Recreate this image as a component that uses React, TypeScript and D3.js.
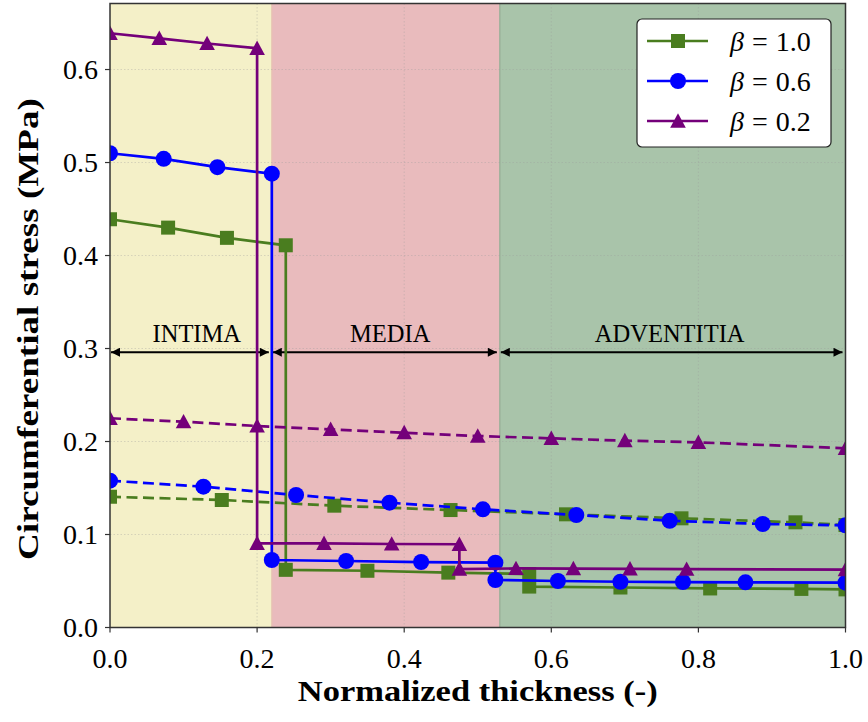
import React from 'react';
import * as d3 from 'd3';

// layer spans (normalized thickness)
const regionNames = ['INTIMA', 'MEDIA', 'ADVENTITIA'];
const regionStart = [0, 0.22, 0.53];
const regionEnd = [0.22, 0.53, 1.0];
const regionLabelX = [0.118, 0.381, 0.761];
const regionColors = ['#f4f0c8', '#e9bbbd', '#a9c4aa'];
const regionEdges = ['#e6c3b0', '#93ab93'];

const betaLabels = ['1.0', '0.6', '0.2'];
const seriesColors = ['#4a7d1f', '#0000ff', '#74007a'];
const markerShapes = ['square', 'circle', 'triangle'];

// layered model (solid), steps at the layer interfaces
const solidX10 = [0, 0.079, 0.159, 0.239, 0.239, 0.35, 0.46, 0.57, 0.57, 0.694, 0.816, 0.94, 1.0];
const solidY10 = [0.439, 0.43, 0.419, 0.411, 0.062, 0.061, 0.059, 0.0575, 0.044, 0.043, 0.042, 0.0415, 0.041];
const solidX06 = [0, 0.073, 0.146, 0.22, 0.22, 0.321, 0.423, 0.524, 0.524, 0.609, 0.694, 0.779, 0.864, 1.0];
const solidY06 = [0.51, 0.504, 0.495, 0.488, 0.0726, 0.0715, 0.0704, 0.0697, 0.0511, 0.05, 0.0492, 0.0489, 0.0486, 0.0482];
const solidX02 = [0, 0.067, 0.132, 0.2, 0.2, 0.291, 0.383, 0.475, 0.475, 0.552, 0.63, 0.707, 0.784, 1.0];
const solidY02 = [0.639, 0.6335, 0.628, 0.6228, 0.0905, 0.0905, 0.0898, 0.0895, 0.0628, 0.0635, 0.0633, 0.063, 0.0627, 0.0622];

// homogeneous model (dashed)
const dashX10 = [0, 0.152, 0.305, 0.463, 0.62, 0.777, 0.932, 1.0];
const dashY10 = [0.1406, 0.1371, 0.131, 0.1263, 0.1217, 0.1174, 0.1131, 0.1102];
const dashX06 = [0, 0.127, 0.253, 0.38, 0.507, 0.634, 0.761, 0.8875, 1.0];
const dashY06 = [0.1579, 0.1514, 0.1425, 0.1342, 0.1271, 0.121, 0.1148, 0.1113, 0.1099];
const dashX02 = [0, 0.1, 0.2, 0.3, 0.4, 0.5, 0.6, 0.7, 0.8, 1.0];
const dashY02 = [0.225, 0.2213, 0.2167, 0.2131, 0.2095, 0.2059, 0.2034, 0.2009, 0.1991, 0.1927];

const xTicks = [0, 0.2, 0.4, 0.6, 0.8, 1.0];
const yTicks = [0, 0.1, 0.2, 0.3, 0.4, 0.5, 0.6];

const W = 868;
const H = 722;
const left = 110;
const right = 845.5;
const top = 3.5;
const bottom = 627.5;
const font = '"Liberation Serif", "DejaVu Serif", serif';

const x = d3.scaleLinear().domain([0, 1]).range([left, right]);
const y = d3.scaleLinear().domain([0, 0.671]).range([bottom, top]);

const Marker = ({ shape, cx, cy, color }: { shape: string; cx: number; cy: number; color: string }) => {
  if (shape === 'square') {
    return <rect x={cx - 7} y={cy - 7} width={14} height={14} fill={color} />;
  }
  if (shape === 'circle') {
    return <circle cx={cx} cy={cy} r={8} fill={color} />;
  }
  const s = 7.8;
  return <path d={`M${cx},${cy - s}L${cx + s},${cy + s * 0.85}L${cx - s},${cy + s * 0.85}Z`} fill={color} />;
};

const App = () => {
  const line = d3
    .line<[number, number]>()
    .x((d) => x(d[0]))
    .y((d) => y(d[1]));

  // draw order: each beta solid then dashed
  const series = [
    { xs: solidX10, ys: solidY10, i: 0, dashed: false },
    { xs: dashX10, ys: dashY10, i: 0, dashed: true },
    { xs: solidX06, ys: solidY06, i: 1, dashed: false },
    { xs: dashX06, ys: dashY06, i: 1, dashed: true },
    { xs: solidX02, ys: solidY02, i: 2, dashed: false },
    { xs: dashX02, ys: dashY02, i: 2, dashed: true },
  ];

  const arrowY = y(0.296);
  const labelY = y(0.3075);

  return (
    <svg width={W} height={H} style={{ position: 'absolute', left: 0, top: 0 }} fontFamily={font}>
      <defs>
        <marker id='ah' viewBox='0 0 10 10' refX='10' refY='5' markerWidth='10' markerHeight='9' markerUnits='userSpaceOnUse' orient='auto-start-reverse'>
          <path d='M0,0L10,5L0,10Z' fill='#000' />
        </marker>
        <clipPath id='plot'>
          <rect x={left} y={top} width={right - left} height={bottom - top} />
        </clipPath>
      </defs>
      <rect width={W} height={H} fill='#fff' />

      {/* layer backgrounds */}
      {regionNames.map((n, i) => (
        <rect key={n} x={x(regionStart[i])} y={top} width={x(regionEnd[i]) - x(regionStart[i])} height={bottom - top} fill={regionColors[i]} />
      ))}
      {regionEdges.map((c, i) => (
        <line key={c} x1={x(regionEnd[i])} x2={x(regionEnd[i])} y1={top} y2={bottom} stroke={c} strokeWidth={1.2} />
      ))}

      {/* grid */}
      {xTicks.slice(1, -1).map((t) => (
        <line key={'gx' + t} x1={x(t)} x2={x(t)} y1={top} y2={bottom} stroke='#9a9a9a' strokeOpacity={0.35} strokeDasharray='1.5,2' />
      ))}
      {yTicks.slice(1).map((t) => (
        <line key={'gy' + t} x1={left} x2={right} y1={y(t)} y2={y(t)} stroke='#9a9a9a' strokeOpacity={0.35} strokeDasharray='1.5,2' />
      ))}

      {/* layer annotations */}
      {regionNames.map((n, i) => (
        <g key={'a' + n}>
          <line x1={x(regionStart[i]) + 1} x2={x(regionEnd[i]) - 3} y1={arrowY} y2={arrowY} stroke='#000' strokeWidth={2} markerStart='url(#ah)' markerEnd='url(#ah)' />
          <text x={x(regionLabelX[i])} y={labelY} textAnchor='middle' fontSize={24.5}>
            {n}
          </text>
        </g>
      ))}

      {/* curves */}
      <g clipPath='url(#plot)'>
        {series.map((s, k) => {
          const pts = s.xs.map((v, j) => [v, s.ys[j]] as [number, number]);
          const c = seriesColors[s.i];
          return (
            <g key={k}>
              <path d={line(pts) ?? ''} fill='none' stroke={c} strokeWidth={2.7} strokeDasharray={s.dashed ? '11,5.5' : undefined} />
              {pts.map((p, j) => (
                <Marker key={j} shape={markerShapes[s.i]} cx={x(p[0])} cy={y(p[1])} color={c} />
              ))}
            </g>
          );
        })}
      </g>

      {/* frame */}
      <rect x={left} y={top} width={right - left} height={bottom - top} fill='none' stroke='#333' strokeWidth={1.5} />

      {/* axes ticks */}
      {xTicks.map((t) => (
        <g key={'x' + t}>
          <line x1={x(t)} x2={x(t)} y1={bottom} y2={bottom + 5} stroke='#333' strokeWidth={1.2} />
          <text x={x(t)} y={bottom + 40} textAnchor='middle' fontSize={28}>
            {d3.format('.1f')(t)}
          </text>
        </g>
      ))}
      {yTicks.map((t) => (
        <g key={'y' + t}>
          <line x1={left - 5} x2={left} y1={y(t)} y2={y(t)} stroke='#333' strokeWidth={1.2} />
          <text x={left - 12} y={y(t) + 9} textAnchor='end' fontSize={28}>
            {d3.format('.1f')(t)}
          </text>
        </g>
      ))}

      <text x={(left + right) / 2} y={701} textAnchor='middle' fontSize={29} fontWeight='bold' textLength={360} lengthAdjust='spacingAndGlyphs'>
        Normalized thickness (-)
      </text>
      <text transform={`translate(38, ${329}) rotate(-90)`} textAnchor='middle' fontSize={29} fontWeight='bold' textLength={462} lengthAdjust='spacingAndGlyphs'>
        Circumferential stress (MPa)
      </text>

      {/* legend */}
      <rect x={637} y={19} width={194} height={128} rx={5} fill='#fff' stroke='#222' strokeWidth={1.2} />
      {betaLabels.map((b, i) => {
        const ly = 41 + i * 40;
        return (
          <g key={b}>
            <line x1={647} x2={708} y1={ly} y2={ly} stroke={seriesColors[i]} strokeWidth={2.6} />
            <Marker shape={markerShapes[i]} cx={678} cy={ly} color={seriesColors[i]} />
            <text x={730} y={ly + 10} fontSize={28}>
              <tspan fontStyle='italic'>β</tspan>
              <tspan dx={8}>=</tspan>
              <tspan dx={8}>{b}</tspan>
            </text>
          </g>
        );
      })}
    </svg>
  );
};

export default App;
